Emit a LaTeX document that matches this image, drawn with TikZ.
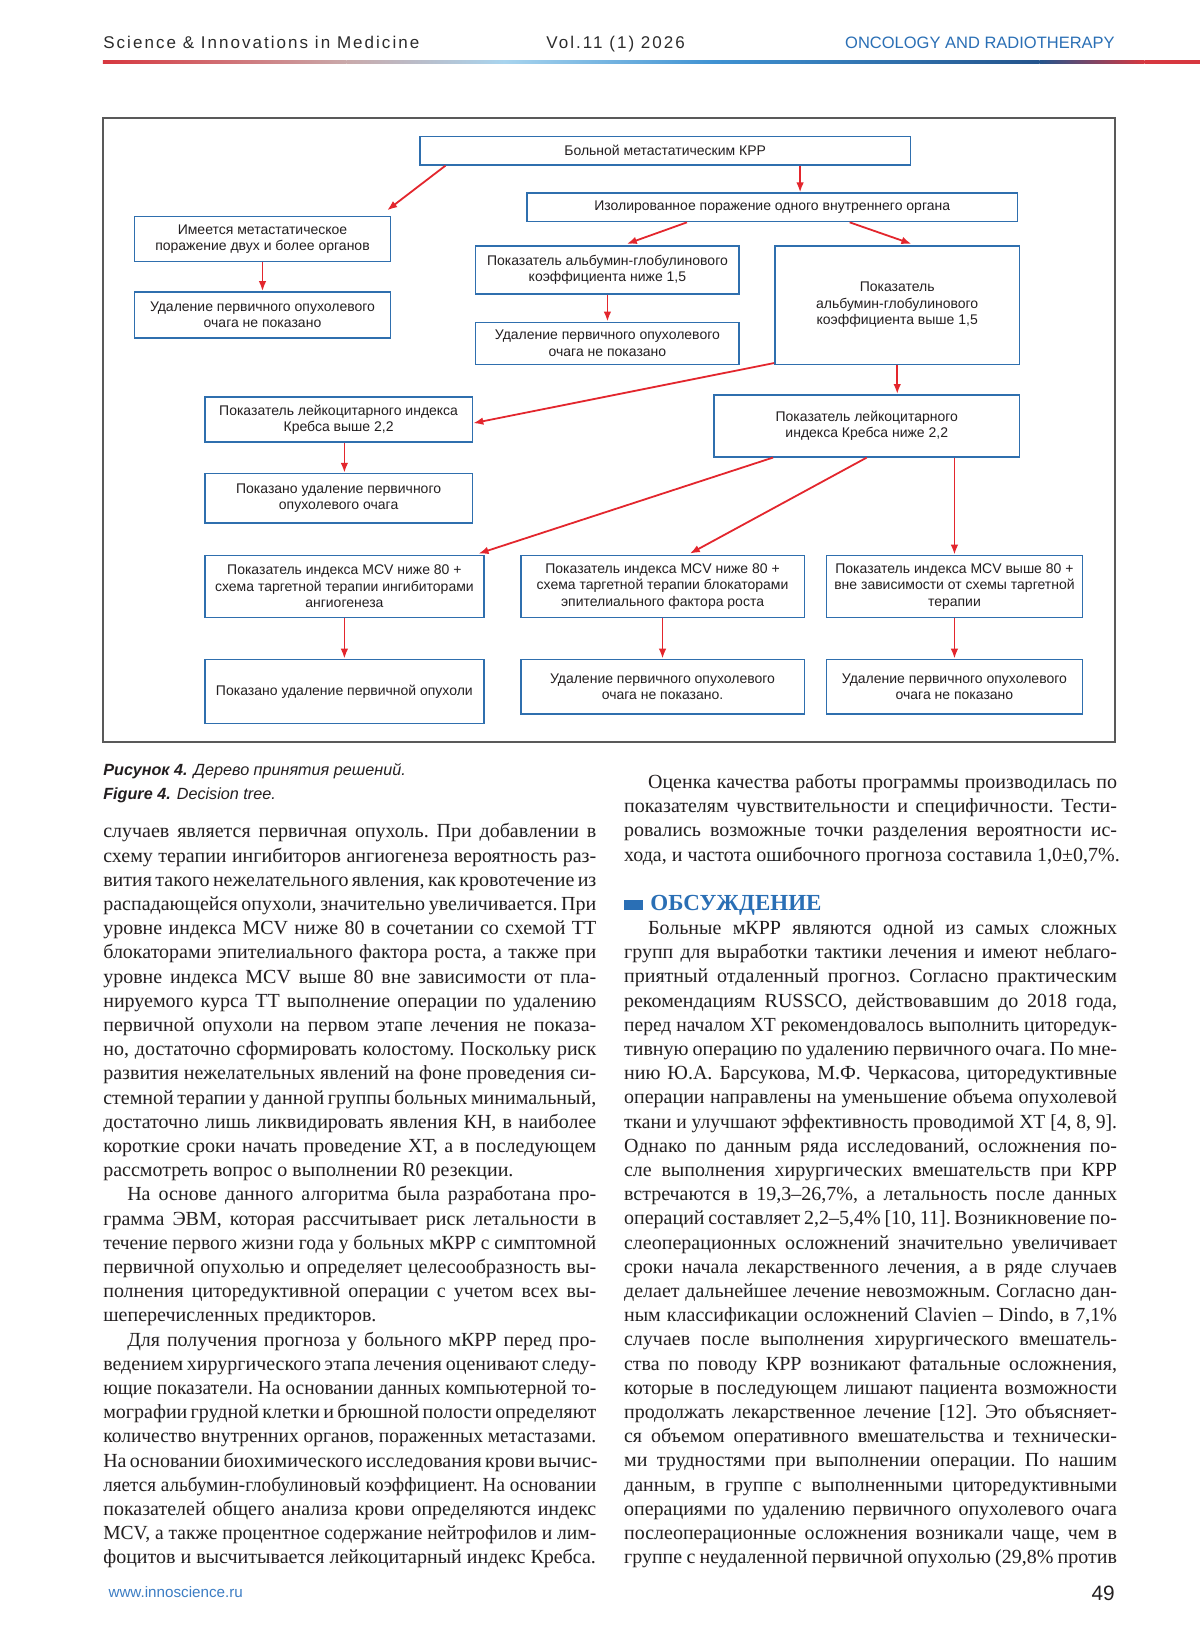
\documentclass[tikz,border=0pt]{standalone}
\usepackage{fontspec}
\usepackage{graphicx}
\setmainfont{Liberation Serif}
\newfontfamily\boxfont{Liberation Sans}
\newfontfamily\sansfont{Liberation Sans}
\newfontfamily\hdrfont[LetterSpace=12]{Liberation Sans}
\usetikzlibrary{calc,positioning,arrows.meta}

\definecolor{boxblue}{HTML}{2F6FAE}
\definecolor{arrred}{HTML}{E3262D}
\definecolor{ink}{HTML}{231F20}
\definecolor{hdgray}{HTML}{2B2B2B}
\definecolor{hdblue}{HTML}{2A6FB5}
\definecolor{linkblue}{HTML}{3C7DC4}
\definecolor{lnred}{HTML}{D7373F}
\definecolor{lnpink}{HTML}{C9A9AA}
\definecolor{lnsky}{HTML}{A8D4EE}
\definecolor{lnblue}{HTML}{3F92D2}
\definecolor{lndark}{HTML}{24548C}

\newlength\colw
\setlength\colw{246.5pt}
\newlength\colwx
\setlength\colwx{252pt}
% justified line; too long lines are squeezed a little
\newcommand\fullln[1]{\setbox0=\hbox{#1}%
  \ifdim\wd0>\colwx \hbox{\resizebox{\colw}{\height}{\box0}}%
  \else\hbox to\colw{#1}\fi}
\newcommand\lastln[1]{\hbox{#1}}

\tikzset{
  blk/.style={draw=boxblue, line width=0.8pt, fill=white, align=center, text=ink,
    inner sep=1pt, font=\boxfont\fontsize{7}{8.2}\selectfont},
  boxsz/.style 2 args={minimum width=#1*0.525pt, minimum height=#2*0.525pt},
  arr/.style={-{Latex[length=5pt,width=3.8pt]}, draw=arrred, line width=0.9pt},
  txt/.style={anchor=base west, inner sep=0pt, text=ink,
    font=\fontsize{10}{12.1}\selectfont\frenchspacing},
}

\begin{document}
\begin{tikzpicture}[x=0.525pt, y=-0.525pt]
\fill[white] (0,0) rectangle (1142.86,1566.67);
\useasboundingbox (0,0) rectangle (1142.86,1566.67);

% header
\node[anchor=base west, inner sep=0pt, text=hdgray, font=\hdrfont\fontsize{8.5}{10}\selectfont] (journal) at (98,46) {Science \& Innovations in Medicine};
\node[anchor=base west, inner sep=0pt, text=hdgray, font=\hdrfont\fontsize{8.5}{10}\selectfont] (vol) at (520,46) {Vol.11 (1) 2026};
\node[anchor=base east, inner sep=0pt, text=hdblue, font=\sansfont\fontsize{8.25}{10}\selectfont] (section) at (1062,46) {ONCOLOGY AND RADIOTHERAPY};
\shade[left color=lnred, right color=lnpink] (98,57.5) rectangle (330,60.5);
\shade[left color=lnpink, right color=lnsky] (330,57.5) rectangle (480,60.5);
\shade[left color=lnsky, right color=lnblue] (480,57.5) rectangle (680,60.5);
\shade[left color=lnblue, right color=lndark] (680,57.5) rectangle (990,60.5);
\shade[left color=lndark, right color=lnred] (990,57.5) rectangle (1090,60.5);
\fill[lnred] (1090,57.5) rectangle (1142.86,60.5);

% frame
\draw[line width=0.9pt, draw=gray!70!black] (98,112) rectangle (1062,707);

% boxes
\node[blk, boxsz={467}{27}] (top) at (633.5,143.5) {Больной метастатическим КРР};
\node[blk, boxsz={467}{27}] (iso) at (735.5,197.5) {Изолированное поражение одного внутреннего органа};
\node[blk, boxsz={244}{43}] (multi) at (250,227.5) {Имеется метастатическое\\поражение двух и более органов};
\node[blk, boxsz={244}{44}] (multiNo) at (250,300) {Удаление первичного опухолевого\\очага не показано};
\node[blk, boxsz={251}{46}] (agLow) at (578.5,257) {Показатель альбумин-глобулинового\\коэффициента ниже 1,5};
\node[blk, boxsz={251}{40}] (agLowNo) at (578.5,327) {Удаление первичного опухолевого\\очага не показано};
\node[blk, boxsz={233}{113}] (agHigh) at (854.5,290.5) {Показатель\\альбумин-глобулинового\\коэффициента выше 1,5};
\node[blk, boxsz={255}{43}] (krHigh) at (322.5,399.5) {Показатель лейкоцитарного индекса\\Кребса выше 2,2};
\node[blk, boxsz={255}{47}] (krHighYes) at (322.5,474.5) {Показано удаление первичного\\опухолевого очага};
\node[blk, boxsz={291}{59}] (krLow) at (825.5,405.5) {Показатель лейкоцитарного\\индекса Кребса ниже 2,2};
\node[blk, boxsz={266}{59}] (mcvA) at (328,558.5) {Показатель индекса MCV ниже 80 +\\схема таргетной терапии ингибиторами\\ангиогенеза};
\node[blk, boxsz={270}{59}] (mcvB) at (631,558.5) {Показатель индекса MCV ниже 80 +\\схема таргетной терапии блокаторами\\эпителиального фактора роста};
\node[blk, boxsz={244}{59}] (mcvC) at (909,558.5) {Показатель индекса MCV выше 80 +\\вне зависимости от схемы таргетной\\терапии};
\node[blk, boxsz={266}{61}] (resA) at (328,658.5) {Показано удаление первичной опухоли};
\node[blk, boxsz={270}{52}] (resB) at (631,654) {Удаление первичного опухолевого\\очага не показано.};
\node[blk, boxsz={244}{52}] (resC) at (909,654) {Удаление первичного опухолевого\\очага не показано};

% arrows
\draw[arr] ($(top.south west)+(25,0)$) -- ($(multi.north east)+(-4,-5)$);
\draw[arr] ($(top.south)+(128.5,0)$) -- ($(iso.north)+(26.5,0)$);
\draw[arr] ($(iso.south west)+(153,0)$) -- ($(agLow.north)+(18.5,-1)$);
\draw[arr] ($(iso.south west)+(308,0)$) -- ($(agHigh.north)+(13.5,-1)$);
\draw[arr] (multi.south) -- (multiNo.north);
\draw[arr] (agLow.south) -- (agLowNo.north);
\draw[arr] ($(agHigh.south west)+(0,-2)$) -- ($(krHigh.east)+(0,3.5)$);
\draw[arr] (agHigh.south) -- (agHigh.south |- krLow.north);
\draw[arr] (krHigh.south -| mcvA.north) -- (krHighYes.north -| mcvA.north);
\draw[arr] ($(krLow.south west)+(57,0)$) -- ($(mcvA.north east)+(-6,-1)$);
\draw[arr] (krLow.south) -- ($(mcvB.north)+(26,-1)$);
\draw[arr] (krLow.south -| mcvC.north) -- (mcvC.north);
\foreach \a/\b in {mcvA/resA, mcvB/resB, mcvC/resC}
  \draw[arr] (\a.south) -- (\b.north);

% caption
\node[anchor=base west, inner sep=0pt, text=ink, font=\sansfont\fontsize{8.1}{10}\selectfont] (capRu) at (98,739) {\textbf{\textit{Рисунок 4.}} \textit{Дерево принятия решений.}};
\node[anchor=base west, inner sep=0pt, text=ink, font=\sansfont\fontsize{8.1}{10}\selectfont] (capEn) at (98,761) {\textbf{\textit{Figure 4.}} \textit{Decision tree.}};

% left column
\node[txt] (colL) at (98,798) {\vtop{%
\fullln{случаев является первичная опухоль. При добавлении в}%
\fullln{схему терапии ингибиторов ангиогенеза вероятность раз-}%
\fullln{вития такого нежелательного явления, как кровотечение из}%
\fullln{распадающейся опухоли, значительно увеличивается. При}%
\fullln{уровне индекса MCV ниже 80 в сочетании со схемой ТТ}%
\fullln{блокаторами эпителиального фактора роста, а также при}%
\fullln{уровне индекса MCV выше 80 вне зависимости от пла-}%
\fullln{нируемого курса ТТ выполнение операции по удалению}%
\fullln{первичной опухоли на первом этапе лечения не показа-}%
\fullln{но, достаточно сформировать колостому. Поскольку риск}%
\fullln{развития нежелательных явлений на фоне проведения си-}%
\fullln{стемной терапии у данной группы больных минимальный,}%
\fullln{достаточно лишь ликвидировать явления КН, в наиболее}%
\fullln{короткие сроки начать проведение ХТ, а в последующем}%
\lastln{рассмотреть вопрос о выполнении R0 резекции.}%
\fullln{\hskip12pt На основе данного алгоритма была разработана про-}%
\fullln{грамма ЭВМ, которая рассчитывает риск летальности в}%
\fullln{течение первого жизни года у больных мКРР с симптомной}%
\fullln{первичной опухолью и определяет целесообразность вы-}%
\fullln{полнения циторедуктивной операции с учетом всех вы-}%
\lastln{шеперечисленных предикторов.}%
\fullln{\hskip12pt Для получения прогноза у больного мКРР перед про-}%
\fullln{ведением хирургического этапа лечения оценивают следу-}%
\fullln{ющие показатели. На основании данных компьютерной то-}%
\fullln{мографии грудной клетки и брюшной полости определяют}%
\fullln{количество внутренних органов, пораженных метастазами.}%
\fullln{На основании биохимического исследования крови вычис-}%
\fullln{ляется альбумин-глобулиновый коэффициент. На основании}%
\fullln{показателей общего анализа крови определяются индекс}%
\fullln{MCV, а также процентное содержание нейтрофилов и лим-}%
\lastln{фоцитов и высчитывается лейкоцитарный индекс Кребса.}%
}};

% right column
\node[txt] (colR) at (594,751) {\vtop{%
\fullln{\hskip12pt Оценка качества работы программы производилась по}%
\fullln{показателям чувствительности и специфичности. Тести-}%
\fullln{ровались возможные точки разделения вероятности ис-}%
\lastln{хода, и частота ошибочного прогноза составила 1,0±0,7\%.}%
}};
\fill[hdblue] (594,857) rectangle (612,867);
\node[anchor=base west, inner sep=0pt, text=hdblue, font=\bfseries\fontsize{11.5}{13}\selectfont] (discuss) at (619,867) {ОБСУЖДЕНИЕ};
\node[txt] (colR2) at (594,890) {\vtop{%
\fullln{\hskip12pt Больные мКРР являются одной из самых сложных}%
\fullln{групп для выработки тактики лечения и имеют неблаго-}%
\fullln{приятный отдаленный прогноз. Согласно практическим}%
\fullln{рекомендациям RUSSCO, действовавшим до 2018 года,}%
\fullln{перед началом ХТ рекомендовалось выполнить циторедук-}%
\fullln{тивную операцию по удалению первичного очага. По мне-}%
\fullln{нию Ю.А. Барсукова, М.Ф. Черкасова, циторедуктивные}%
\fullln{операции направлены на уменьшение объема опухолевой}%
\fullln{ткани и улучшают эффективность проводимой ХТ [4, 8, 9].}%
\fullln{Однако по данным ряда исследований, осложнения по-}%
\fullln{сле выполнения хирургических вмешательств при КРР}%
\fullln{встречаются в 19,3–26,7\%, а летальность после данных}%
\fullln{операций составляет 2,2–5,4\% [10, 11]. Возникновение по-}%
\fullln{слеоперационных осложнений значительно увеличивает}%
\fullln{сроки начала лекарственного лечения, а в ряде случаев}%
\fullln{делает дальнейшее лечение невозможным. Согласно дан-}%
\fullln{ным классификации осложнений Clavien – Dindo, в 7,1\%}%
\fullln{случаев после выполнения хирургического вмешатель-}%
\fullln{ства по поводу КРР возникают фатальные осложнения,}%
\fullln{которые в последующем лишают пациента возможности}%
\fullln{продолжать лекарственное лечение [12]. Это объясняет-}%
\fullln{ся объемом оперативного вмешательства и технически-}%
\fullln{ми трудностями при выполнении операции. По нашим}%
\fullln{данным, в группе с выполненными циторедуктивными}%
\fullln{операциями по удалению первичного опухолевого очага}%
\fullln{послеоперационные осложнения возникали чаще, чем в}%
\fullln{группе с неудаленной первичной опухолью (29,8\% против}%
}};

% footer
\node[anchor=base west, inner sep=0pt, text=linkblue, font=\sansfont\fontsize{7.6}{9}\selectfont] (site) at (103,1521) {www.innoscience.ru};
\node[anchor=base east, inner sep=0pt, text=ink, font=\sansfont\fontsize{10.4}{12}\selectfont] (page) at (1062,1524) {49};
\end{tikzpicture}
\end{document}
